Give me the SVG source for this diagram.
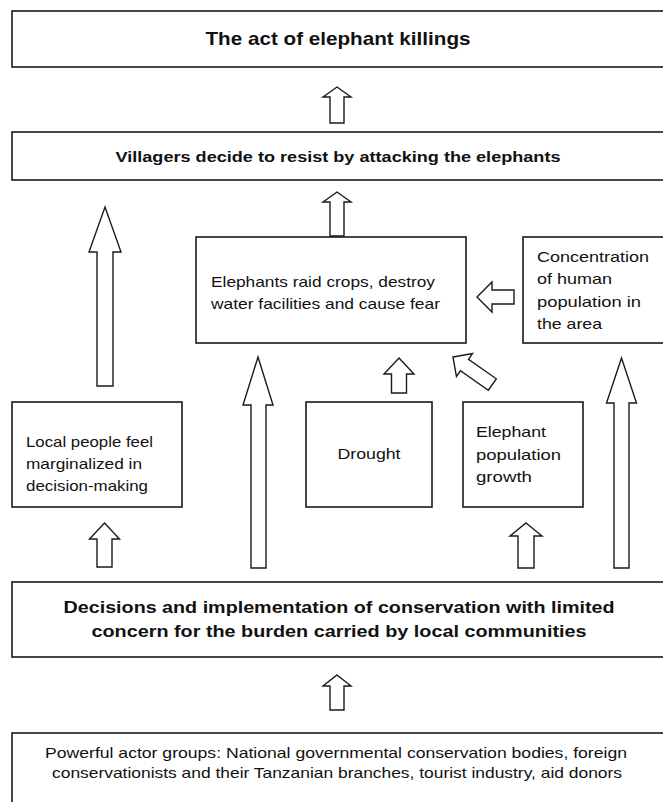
<svg xmlns="http://www.w3.org/2000/svg" width="663" height="802" viewBox="0 0 663 802">
<style>
.box{fill:#fff;stroke:#1a1a1a;stroke-width:1.6}
.arr{fill:#fff;stroke:#1a1a1a;stroke-width:1.4;stroke-linejoin:miter}
.t{font-family:"Liberation Sans",Arial,sans-serif;fill:#111}
.b{font-weight:bold}
.c{text-anchor:middle}
</style>
<rect x="0" y="0" width="663" height="802" fill="#fff"/>
<g id="n-killings">
<rect class="box" x="12" y="11" width="665" height="56"/>
<text class="t b c" x="338" y="45" font-size="19" textLength="265" lengthAdjust="spacingAndGlyphs">The act of elephant killings</text>
</g>
<g id="n-villagers">
<rect class="box" x="12" y="132" width="665" height="48"/>
<text class="t b c" x="338" y="162" font-size="15.5" textLength="445" lengthAdjust="spacingAndGlyphs">Villagers decide to resist by attacking the elephants</text>
</g>
<g id="n-raid">
<rect class="box" x="196" y="237" width="270" height="106"/>
<text class="t" x="211" y="287" font-size="14.5" textLength="224" lengthAdjust="spacingAndGlyphs">Elephants raid crops, destroy</text>
<text class="t" x="211" y="309" font-size="14.5" textLength="229" lengthAdjust="spacingAndGlyphs">water facilities and cause fear</text>
</g>
<g id="n-concentration">
<rect class="box" x="523" y="237" width="160" height="106"/>
<text class="t" x="537" y="262" font-size="14.5" textLength="112" lengthAdjust="spacingAndGlyphs">Concentration</text>
<text class="t" x="537" y="284" font-size="14.5" textLength="75" lengthAdjust="spacingAndGlyphs">of human</text>
<text class="t" x="537" y="307" font-size="14.5" textLength="104" lengthAdjust="spacingAndGlyphs">population in</text>
<text class="t" x="537" y="329" font-size="14.5" textLength="65" lengthAdjust="spacingAndGlyphs">the area</text>
</g>
<g id="n-local">
<rect class="box" x="12" y="402" width="170" height="105"/>
<text class="t" x="26" y="447" font-size="14.5" textLength="127" lengthAdjust="spacingAndGlyphs">Local people feel</text>
<text class="t" x="26" y="469" font-size="14.5" textLength="116" lengthAdjust="spacingAndGlyphs">marginalized in</text>
<text class="t" x="26" y="491" font-size="14.5" textLength="122" lengthAdjust="spacingAndGlyphs">decision-making</text>
</g>
<g id="n-drought">
<rect class="box" x="306" y="402" width="126" height="105"/>
<text class="t c" x="369" y="459" font-size="14.5" textLength="63" lengthAdjust="spacingAndGlyphs">Drought</text>
</g>
<g id="n-growth">
<rect class="box" x="463" y="402" width="120" height="105"/>
<text class="t" x="476" y="437" font-size="14.5" textLength="70" lengthAdjust="spacingAndGlyphs">Elephant</text>
<text class="t" x="476" y="460" font-size="14.5" textLength="85" lengthAdjust="spacingAndGlyphs">population</text>
<text class="t" x="476" y="482" font-size="14.5" textLength="56" lengthAdjust="spacingAndGlyphs">growth</text>
</g>
<g id="n-decisions">
<rect class="box" x="12" y="582" width="665" height="75"/>
<text class="t b c" x="339" y="613" font-size="17" textLength="551" lengthAdjust="spacingAndGlyphs">Decisions and implementation of conservation with limited</text>
<text class="t b c" x="339" y="637" font-size="17" textLength="495" lengthAdjust="spacingAndGlyphs">concern for the burden carried by local communities</text>
</g>
<g id="n-actors">
<rect class="box" x="12" y="733" width="665" height="90"/>
<text class="t c" x="336" y="758" font-size="14.5" textLength="582" lengthAdjust="spacingAndGlyphs">Powerful actor groups: National governmental conservation bodies, foreign</text>
<text class="t c" x="337" y="778" font-size="14.5" textLength="570" lengthAdjust="spacingAndGlyphs">conservationists and their Tanzanian branches, tourist industry, aid donors</text>
</g>
<g id="connectors">
<path class="arr" d="M337,87 L351,97 L344,97 L344,123 L330,123 L330,97 L323,97 Z"/>
<path class="arr" d="M337,192 L351,202 L344,202 L344,236 L330,236 L330,202 L323,202 Z"/>
<path class="arr" d="M105,207 L121,252 L113,252 L113,386 L97,386 L97,252 L89,252 Z"/>
<path class="arr" d="M258,357 L273,405 L266,405 L266,568 L251,568 L251,405 L243,405 Z"/>
<path class="arr" d="M621.5,358 L636.5,403 L629,403 L629,568 L614,568 L614,403 L606.5,403 Z"/>
<path class="arr" d="M399,358 L414,374 L406.5,374 L406.5,393 L391.5,393 L391.5,374 L384,374 Z"/>
<path class="arr" d="M104.5,523 L119.5,539 L112,539 L112,567 L97,567 L97,539 L89.5,539 Z"/>
<path class="arr" d="M526,523 L542,536 L534,536 L534,568 L518,568 L518,536 L510,536 Z"/>
<path class="arr" d="M337,675 L351,686 L344,686 L344,710 L330,710 L330,686 L323,686 Z"/>
<path class="arr" d="M477,297 L492,282 L492,290 L514,290 L514,304 L492,304 L492,312 Z"/>
<path class="arr" transform="translate(453,357) rotate(-55)" d="M0,0 L14,14 L7,14 L7,48 L-7,48 L-7,14 L-14,14 Z"/>
</g>
</svg>
